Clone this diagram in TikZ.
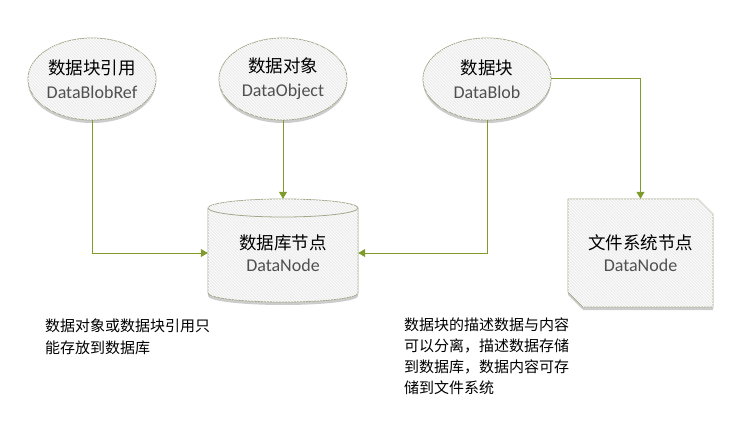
\documentclass[tikz,border=0pt]{standalone}
\usepackage{fontspec}
\setmainfont{Carlito}
\newfontfamily\cjk{Noto Sans CJK SC}
\usetikzlibrary{arrows.meta,shapes.geometric,shadows,patterns}
\definecolor{shapefill}{HTML}{EEEEEE}
\definecolor{shapeline}{HTML}{A4A78A}
\definecolor{conn}{HTML}{7F9B2C}
\definecolor{latgray}{HTML}{505050}
\begin{document}
\begin{tikzpicture}[x=1pt,y=-1pt,
  shapedeco/.style={draw=shapeline, line width=0.8pt, fill=shapefill,
    drop shadow={shadow xshift=0pt, shadow yshift=-3pt, opacity=0.2, fill=black},
    postaction={pattern=north west lines, pattern color=white}},
  entity/.style={shapedeco, shape=ellipse, minimum width=128pt, minimum height=82pt,
    inner sep=0pt, align=center, font=\fontsize{18}{24}\selectfont},
  boxtext/.style={shape=rectangle, minimum width=150pt, minimum height=108pt,
    inner sep=0pt, align=center, font=\fontsize{18}{22}\selectfont},
  note/.style={inner sep=0pt, align=left, anchor=north west, font=\cjk\fontsize{15}{22}\selectfont},
  connector/.style={draw=conn, line width=1pt, -{Triangle[width=8pt,length=7pt]}}]
\useasboundingbox (0,0) rectangle (747,428);

% ellipses
\node[entity] (ref) at (92,79) {{\cjk\fontsize{17.5}{24}\selectfont 数据块引用}\\{\color{latgray}DataBlobRef}};
\node[entity] (obj) at (283,79) {{\cjk\fontsize{17.5}{24}\selectfont 数据对象}\\{\color{latgray}DataObject}};
\node[entity] (blob) at (487,79) {{\cjk\fontsize{17.5}{24}\selectfont 数据块}\\{\color{latgray}DataBlob}};

% cylinder
\path[shapedeco] (208,208) -- (208,293)
  arc[start angle=180, end angle=0, x radius=75, y radius=9]
  -- (358,208)
  arc[start angle=0, end angle=-180, x radius=75, y radius=9] -- cycle;
\draw[shapeline, line width=0.8pt] (208,208) arc[start angle=180, end angle=0, x radius=75, y radius=9];
\node[boxtext] (db) at (283,253) {{\cjk\fontsize{17.5}{22}\selectfont 数据库节点}\\{\color{latgray}DataNode}};

% file system node
\path[shapedeco] (568,199) -- (698,199) -- (713,214) -- (713,307) -- (583,307) -- (568,292) -- cycle;
\node[boxtext, minimum width=145pt] (fs) at (640.5,253) {{\cjk\fontsize{17.5}{22}\selectfont 文件系统节点}\\{\color{latgray}DataNode}};

% connectors
\draw[connector] (ref.south) -- (ref.south |- db.west) -- (db.west);
\draw[connector] (obj.south) -- (db.north);
\draw[connector] (blob.south) -- (blob.south |- db.east) -- (db.east);
\draw[connector] (blob.east) -- (blob.east -| fs.north) -- (fs.north);

% notes
\node[note] (n1) at (45,319) {数据对象或数据块引用只\\能存放到数据库};
\node[note, font=\cjk\fontsize{15}{21}\selectfont] (n2) at (404,318) {数据块的描述数据与内容\\可以分离，描述数据存储\\到数据库，数据内容可存\\储到文件系统};
\end{tikzpicture}
\end{document}
